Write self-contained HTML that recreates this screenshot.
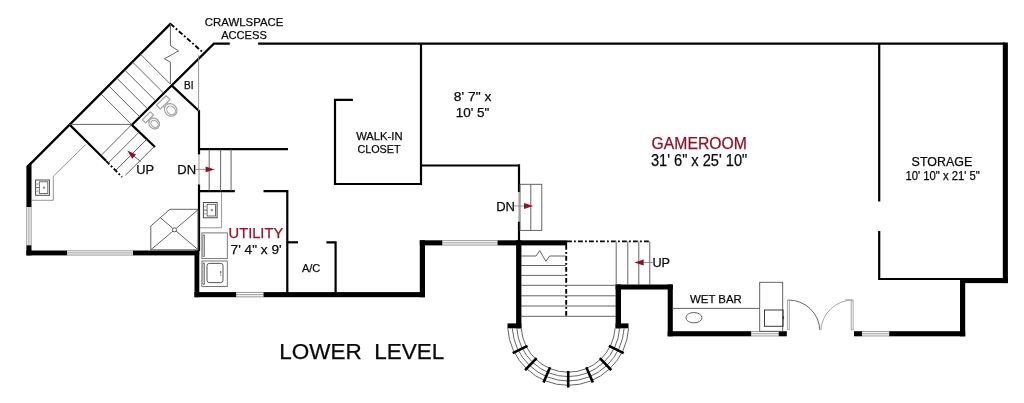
<!DOCTYPE html>
<html>
<head>
<meta charset="utf-8">
<title>Lower Level Floor Plan</title>
<style>
html,body{margin:0;padding:0;background:#fff;}
body{width:1024px;height:403px;overflow:hidden;font-family:"Liberation Sans",sans-serif;}
svg{display:block;will-change:transform;}
text{font-family:"Liberation Sans",sans-serif;fill:#0a0a0a;stroke:#0a0a0a;stroke-width:0.25;}
.w{stroke:#000;stroke-width:2.2;fill:none;stroke-linecap:butt;stroke-linejoin:miter;}
.k{fill:#000;stroke:none;}
.t{stroke:#555;stroke-width:0.9;fill:none;}
.g{stroke:#8a8a8a;stroke-width:0.9;fill:none;}
.lg{stroke:#a8a8a8;stroke-width:1;fill:none;}
.dd{stroke:#000;stroke-width:1.9;fill:none;stroke-dasharray:4.8 2.2 1.8 2.2;}
.red{fill:#8e1228;}
</style>
</head>
<body>
<svg width="1024" height="403" viewBox="0 0 1024 403">
<rect width="1024" height="403" fill="#fff"/>

<!-- ================= THICK WALLS ================= -->
<g class="k">
  <!-- left wall -->
  <polygon points="26.4,207 26.4,166.3 31.5,161.2 31.5,207"/>
  <rect x="26.4" y="245.3" width="5.1" height="10.1"/>
  <rect x="26.4" y="250.5" width="40.7" height="4.9"/>
  <rect x="133" y="250.5" width="66.2" height="4.9"/>
  <!-- utility left/bottom -->
  <rect x="194.5" y="250.5" width="4.8" height="46.7"/>
  <rect x="194.5" y="292.1" width="41.7" height="5.1"/>
  <rect x="263.5" y="292.1" width="161.5" height="5.1"/>
  <rect x="419.8" y="240.3" width="5.2" height="56.9"/>
  <rect x="419.8" y="240.3" width="22.5" height="5.1"/>
  <!-- stair top + left -->
  <rect x="497.5" y="240.3" width="69.6" height="5.1"/>
  <rect x="516.1" y="240.3" width="5.3" height="88"/>
  <rect x="507.5" y="323.4" width="13.9" height="4.9"/>
  <!-- stair right, wet bar -->
  <rect x="615.6" y="284.5" width="5.4" height="43.8"/>
  <rect x="615.6" y="323.4" width="12.9" height="4.9"/>
  <rect x="615.6" y="284.5" width="57.2" height="5"/>
  <rect x="667.7" y="284.5" width="5.1" height="51.8"/>
  <rect x="667.7" y="331.2" width="83.5" height="5.1"/>
  <rect x="778.7" y="331.2" width="8.1" height="5.1"/>
  <!-- right bottom -->
  <rect x="854" y="331.2" width="8" height="5.1"/>
  <rect x="889.2" y="331.2" width="76" height="5.1"/>
  <rect x="960" y="278" width="5.2" height="58.3"/>
  <rect x="960" y="278" width="47.9" height="5.1"/>
  <rect x="1002.8" y="42.5" width="5.1" height="240.6"/>
</g>

<!-- ================= WINDOWS ================= -->
<g stroke="#505050" stroke-width="0.6" fill="none">
  <path d="M26.75,207V245.3M28.95,207V245.3M31.15,207V245.3"/>
  <path d="M67.1,250.85H133M67.1,252.95H133M67.1,255.05H133"/>
  <path d="M236.2,292.45H263.5M236.2,294.65H263.5M236.2,296.85H263.5"/>
  <path d="M442.3,240.65H497.5M442.3,242.85H497.5M442.3,245.05H497.5"/>
  <path d="M751.2,331.55H778.7M751.2,333.75H778.7M751.2,335.95H778.7"/>
  <path d="M862,331.55H889.2M862,333.75H889.2M862,335.95H889.2"/>
</g>

<!-- ================= MEDIUM WALLS ================= -->
<g class="w">
  <!-- top wall -->
  
  <line x1="258.1" y1="43.6" x2="1005" y2="43.6"/>
  <!-- outer diagonal -->
  <line x1="170.9" y1="23.4" x2="27.4" y2="166.9"/>
  <!-- inner diagonal wall -->
  <polyline points="229.8,43.6 213.9,43.6 131.8,124.9 155,147"/>
  <!-- BI wall -->
  <polyline points="171.6,85.4 199,111 199,154.4"/>
  <line x1="199" y1="184.4" x2="199" y2="251"/>
  <!-- landing wall -->
  <line x1="69.3" y1="124.4" x2="106" y2="160.8"/>
  <!-- DN stair walls -->
  <line x1="199" y1="149.2" x2="288" y2="149.2"/>
  <line x1="199" y1="191.1" x2="234.8" y2="191.1"/>
  <!-- utility top/right -->
  <polyline points="263.5,191.1 287.3,191.1 287.3,292.5"/>
  <line x1="287.3" y1="242.3" x2="298" y2="242.3"/>
  <polyline points="326.4,242.3 335.6,242.3 335.6,292.5"/>
  <!-- walk-in closet -->
  <polyline points="352.9,99.8 335,99.8 335,184 421,184"/>
  <line x1="421" y1="43.6" x2="421" y2="185.1"/>
  <line x1="421" y1="165.5" x2="520" y2="165.5"/>
  <line x1="519" y1="164.4" x2="519" y2="192"/>
  <line x1="519" y1="221.6" x2="519" y2="241"/>
  <!-- storage -->
  <line x1="879.2" y1="43.6" x2="879.2" y2="201.5"/>
  <polyline points="879.2,231 879.2,279 961,279"/>
</g>

<!-- dash-dot lines -->
<g class="dd">
  <line x1="170.6" y1="23.9" x2="204" y2="53.4"/>
  <line x1="106" y1="160.8" x2="122" y2="177"/>
  <line x1="567" y1="241.4" x2="650.5" y2="241.4"/>
  <line x1="566.2" y1="245" x2="566.2" y2="317"/>
</g>

<!-- ================= THIN LINES ================= -->
<g class="t">
  <!-- upper diagonal stair -->
  <line x1="140.8" y1="54.5" x2="170.4" y2="84.1"/>
  <line x1="132.9" y1="62.4" x2="163.6" y2="93.1"/>
  <line x1="125.0" y1="70.3" x2="155.7" y2="101.0"/>
  <line x1="117.0" y1="78.3" x2="147.7" y2="109.0"/>
  <line x1="109.1" y1="86.2" x2="139.8" y2="116.9"/>
  <line x1="101.2" y1="94.1" x2="131.9" y2="124.8"/>
  <polyline points="170.4,24 170.4,45.7 178.5,50.9 164.4,58.8 170.4,62.1 170.4,84"/>
  <line x1="69.3" y1="124.4" x2="131.8" y2="124.4"/>
  <!-- lower diagonal stair -->
  <line x1="131.8" y1="124.6" x2="100.7" y2="155.8"/>
  <line x1="139.3" y1="132.0" x2="108.1" y2="163.2"/>
  <line x1="146.7" y1="139.3" x2="115.5" y2="170.6"/>
  <line x1="154.2" y1="146.6" x2="125.3" y2="175.4"/>
  <line x1="133" y1="155.5" x2="140.8" y2="161.5"/>
  <!-- DN stair 1 -->
  <line x1="209.2" y1="149.2" x2="209.2" y2="191.1"/>
  <line x1="220.6" y1="149.2" x2="220.6" y2="191.1"/>
  <line x1="231.1" y1="149.2" x2="231.1" y2="191.1"/>
  <!-- straight stair treads -->
  <polyline points="521,256 536,256 539.7,250.6 545.9,261.3 549.6,256 566,256"/>
  <line x1="521" y1="265.5" x2="566" y2="265.5"/>
  <line x1="521" y1="275.4" x2="566" y2="275.4"/>
  <line x1="521" y1="285.3" x2="616" y2="285.3"/>
  <line x1="521" y1="295.8" x2="616" y2="295.8"/>
  <line x1="521" y1="306" x2="616" y2="306"/>
  <line x1="521" y1="316.3" x2="616" y2="316.3"/>
  <!-- UP stair risers -->
  <line x1="616.2" y1="241.4" x2="616.2" y2="285"/>
  <line x1="627.8" y1="241.4" x2="627.8" y2="285"/>
  <line x1="638.8" y1="241.4" x2="638.8" y2="285"/>
  <line x1="649.8" y1="241.4" x2="649.8" y2="285"/>
  <!-- curved stair arcs -->
  <path d="M521.3,328.3 A47,47 0 0 0 615.1,328.3"/>
  <path d="M516.8,328.3 A51.5,51.5 0 0 0 619.6,328.3"/>
  <path d="M512.3,328.3 A56,56 0 0 0 624.1,328.3"/>
  <path d="M507.8,328.3 A60.5,60.5 0 0 0 628.6,328.3"/>
  <!-- wet bar -->
  <line x1="672.5" y1="308.4" x2="759.7" y2="308.4"/>
  <rect x="759.7" y="282.3" width="23" height="49"/>
  <ellipse cx="693.9" cy="317.7" rx="8" ry="5.2"/>
  <!-- DN stair 2 -->
  <rect x="520" y="184.3" width="21.8" height="46.1"/>
  <line x1="530.8" y1="184.3" x2="530.8" y2="230.4"/>
  <!-- left door arc -->
  <path d="M788.4,300 A31.5,31.5 0 0 1 819.9,330"/>
  <!-- shower -->
  <polygon points="169.8,209.3 198,209.3 198,249.8 150.8,249.8 150.8,226"/>
  <line x1="174.5" y1="229.8" x2="160.3" y2="217.6"/>
  <line x1="174.5" y1="229.8" x2="198" y2="209.8"/>
  <line x1="174.5" y1="229.8" x2="151" y2="249.6"/>
  <line x1="174.5" y1="229.8" x2="198" y2="249.6"/>
  <circle cx="174.5" cy="229.8" r="2" fill="#fff"/>
</g>
<g class="g">
  <!-- kitchen counter -->
  <polyline points="85.7,144.5 53.3,176.3 53.3,200.3 31.4,200.3"/>
  <!-- utility counter -->
  <polyline points="221.6,192 221.6,227.8 200,227.8"/>
  <!-- thin vertical near BI -->
  <line x1="198.6" y1="55" x2="198.6" y2="111"/>
  <!-- door gaps -->
  <line x1="199" y1="154.4" x2="199" y2="184.4"/>
  <line x1="519" y1="192" x2="519" y2="221.6"/>
  <!-- arrows tails -->
  <line x1="195.6" y1="169.4" x2="206" y2="169.4"/>
  <line x1="513.5" y1="206" x2="524" y2="206"/>
  <line x1="643.5" y1="262.5" x2="653" y2="262.5"/>
  <!-- right door arc -->
  <path d="M852.9,300 A32,32 0 0 0 820.9,330" stroke="#9c9c9c"/>
</g>
<g class="lg" fill="#d4d4d4">
  <rect x="787.4" y="300.3" width="1.9" height="29.4"/>
  <rect x="851.2" y="300.3" width="1.9" height="29.4"/>
  <line x1="845" y1="299.8" x2="851.5" y2="299.8"/>
</g>
<!-- ticks on curved stair -->
<g stroke="#000" stroke-width="2.6" fill="none">
  <line x1="568.2" y1="371.0" x2="568.2" y2="387.5"/>
  <line x1="550.1" y1="367.2" x2="543.5" y2="382.4"/>
  <line x1="586.3" y1="367.2" x2="592.9" y2="382.4"/>
  <line x1="536.6" y1="358.2" x2="525.1" y2="370.1"/>
  <line x1="599.8" y1="358.2" x2="611.3" y2="370.1"/>
  <line x1="527.5" y1="345.8" x2="512.7" y2="353.2"/>
  <line x1="608.9" y1="345.8" x2="623.7" y2="353.2"/>
</g>

<!-- ================= FIXTURES ================= -->
<!-- toilets -->
<g stroke="#a2a2a2" stroke-width="1.15" fill="#fff">
  <g transform="translate(163.2,102.4) rotate(-45)">
    <rect x="-6.8" y="-2.7" width="13.6" height="5.4"/>
    <ellipse cx="0" cy="10.6" rx="5.9" ry="6.7"/>
    <ellipse cx="0" cy="11.2" rx="3.9" ry="4.7"/>
    <line x1="-2.8" y1="2.7" x2="-2.8" y2="5.2"/><line x1="2.8" y1="2.7" x2="2.8" y2="5.2"/>
  </g>
  <g transform="translate(148,117.3) rotate(-45)">
    <rect x="-5.6" y="-2.3" width="11.2" height="4.6"/>
    <ellipse cx="0" cy="8.8" rx="5" ry="5.7"/>
    <ellipse cx="0" cy="9.3" rx="3.2" ry="4"/>
    <line x1="-2.4" y1="2.3" x2="-2.4" y2="4.2"/><line x1="2.4" y1="2.3" x2="2.4" y2="4.2"/>
  </g>
</g>
<!-- kitchen sink -->
<g stroke="#4a4a4a" stroke-width="1" fill="none">
  <rect x="35.6" y="180" width="13.8" height="15.3"/>
  <rect x="39.3" y="181.8" width="8.5" height="11.7" stroke-width="0.8"/>
  <line x1="35.6" y1="187.6" x2="39.3" y2="187.6" stroke-width="0.8"/>
  <circle cx="44" cy="187.6" r="0.8" stroke-width="0.7"/>
  <circle cx="37.4" cy="184" r="0.7" stroke-width="0.6" stroke="#888"/>
  <circle cx="37.4" cy="191.2" r="0.7" stroke-width="0.6" stroke="#888"/>
</g>
<!-- utility sink -->
<g stroke="#4a4a4a" stroke-width="1" fill="none">
  <rect x="203.4" y="202.5" width="13.7" height="15.3"/>
  <rect x="207.1" y="204.3" width="8.4" height="11.7" stroke-width="0.8"/>
  <line x1="203.4" y1="210.1" x2="207.1" y2="210.1" stroke-width="0.8"/>
  <circle cx="211.8" cy="210.1" r="0.8" stroke-width="0.7"/>
  <circle cx="205.2" cy="206.5" r="0.7" stroke-width="0.6" stroke="#888"/>
  <circle cx="205.2" cy="213.7" r="0.7" stroke-width="0.6" stroke="#888"/>
</g>
<!-- washer / dryer -->
<g stroke="#6a6a6a" stroke-width="0.9" fill="none">
  <rect x="201.9" y="232.9" width="25.4" height="25.7"/>
  <rect x="203" y="235" width="1.6" height="21.5" stroke="#5a5a5a" stroke-width="0.7"/>
  <rect x="201.9" y="261" width="25.4" height="25.5"/>
  <rect x="203" y="263" width="1.6" height="21.5" stroke="#5a5a5a" stroke-width="0.7"/>
  <rect x="207" y="263.4" width="16" height="19.2" rx="2.2" stroke="#444"/>
  <line x1="220.7" y1="271" x2="220.7" y2="276" stroke="#444" stroke-width="1.2" stroke-dasharray="0.7 0.6"/>
</g>
<!-- fridge -->
<g stroke="#3a3a3a" stroke-width="1" fill="none">
  <rect x="764.5" y="310" width="18.6" height="16.3"/>
  <line x1="783.4" y1="316.3" x2="783.4" y2="319.2" stroke-width="1.3"/>
</g>

<!-- arrow heads -->
<g class="red">
  <polygon points="214.6,169.4 205.6,166.5 205.6,172.3"/>
  <polygon points="533.2,206 524,203.1 524,208.9"/>
  <polygon points="634.3,262.5 643.7,259.6 643.7,265.4"/>
  <polygon points="127.3,150.4 136.0,154.4 132.2,158.7"/>
</g>

<!-- ================= TEXT ================= -->
<g style="opacity:0.999">
  <text x="244.1" y="26.3" font-size="11.6" text-anchor="middle" textLength="78.5" lengthAdjust="spacingAndGlyphs">CRAWLSPACE</text>
  <text x="244" y="38.7" font-size="11.6" text-anchor="middle" textLength="45.7" lengthAdjust="spacingAndGlyphs">ACCESS</text>
  <text x="188.7" y="88.5" font-size="10" text-anchor="middle">BI</text>
  <text x="136.3" y="174.2" font-size="13" textLength="17.8" lengthAdjust="spacingAndGlyphs">UP</text>
  <text x="177.3" y="174.3" font-size="13" textLength="18.8" lengthAdjust="spacingAndGlyphs">DN</text>
  <text x="228.6" y="238.4" font-size="15.2" class="red" textLength="54.6" lengthAdjust="spacingAndGlyphs" style="fill:#9a1228;stroke:#9a1228">UTILITY</text>
  <text x="230.6" y="253.7" font-size="13.5" textLength="51" lengthAdjust="spacingAndGlyphs">7' 4" x 9'</text>
  <text x="311.1" y="271.9" font-size="11" text-anchor="middle">A/C</text>
  <text x="379.4" y="140.1" font-size="11.4" text-anchor="middle" textLength="46.4" lengthAdjust="spacingAndGlyphs">WALK-IN</text>
  <text x="379" y="152.7" font-size="11.4" text-anchor="middle" textLength="43.2" lengthAdjust="spacingAndGlyphs">CLOSET</text>
  <text x="472.6" y="101.1" font-size="13.5" text-anchor="middle" textLength="37.6" lengthAdjust="spacingAndGlyphs">8' 7" x</text>
  <text x="472.6" y="116.8" font-size="13.5" text-anchor="middle" textLength="33.6" lengthAdjust="spacingAndGlyphs">10' 5"</text>
  <text x="496.2" y="210.7" font-size="13" textLength="18.8" lengthAdjust="spacingAndGlyphs">DN</text>
  <text x="652.4" y="267.4" font-size="13" textLength="17.6" lengthAdjust="spacingAndGlyphs">UP</text>
  <text x="699.2" y="148.5" font-size="16.3" text-anchor="middle" textLength="95.2" lengthAdjust="spacingAndGlyphs" style="fill:#8e1228;stroke:#8e1228">GAMEROOM</text>
  <text x="699.1" y="166" font-size="15.6" text-anchor="middle" textLength="96.4" lengthAdjust="spacingAndGlyphs">31' 6" x 25' 10"</text>
  <text x="715.9" y="303" font-size="11.3" text-anchor="middle" textLength="51.8" lengthAdjust="spacingAndGlyphs">WET BAR</text>
  <text x="941.9" y="166.2" font-size="12.5" text-anchor="middle" textLength="60.6" lengthAdjust="spacingAndGlyphs">STORAGE</text>
  <text x="942.6" y="179.7" font-size="12.6" text-anchor="middle" textLength="74.4" lengthAdjust="spacingAndGlyphs">10' 10" x 21' 5"</text>
  <text x="279.2" y="358.7" font-size="22.5" xml:space="preserve">LOWER  LEVEL</text>
</g>

</svg>
</body>
</html>
